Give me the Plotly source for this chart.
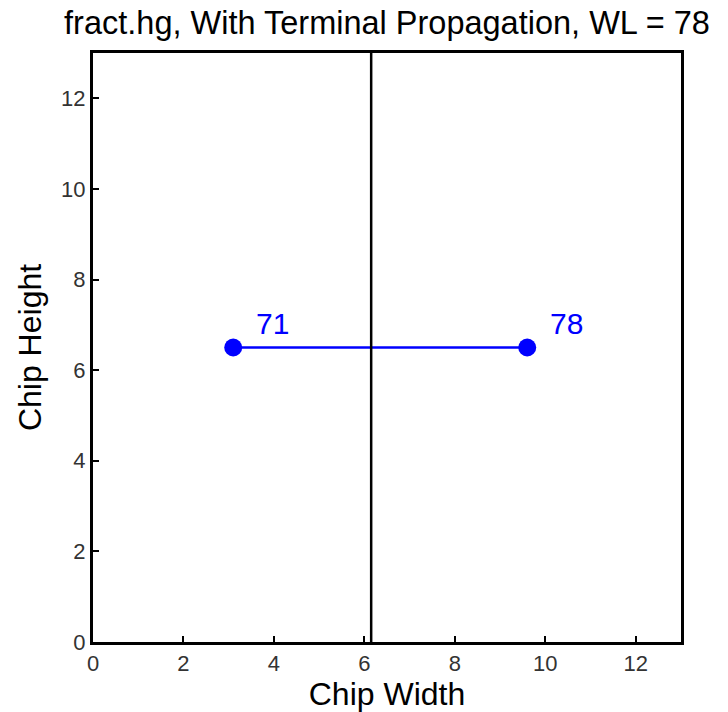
import plotly.graph_objects as go

# Net endpoints (cell positions) and their labels
net_x = [3.1, 9.6]
net_y = [6.5, 6.5]
net_labels = ["71", "78"]

# Vertical cut line position
cut_x = 6.15

x_ticks = [0, 2, 4, 6, 8, 10, 12]
y_ticks = [0, 2, 4, 6, 8, 10, 12]

FONT = "Liberation Sans, Arial"

fig = go.Figure()

fig.add_trace(go.Scatter(
    x=net_x, y=net_y, mode="lines+markers",
    line=dict(color="#0000ff", width=2.5),
    marker=dict(color="#0000ff", size=18),
    hoverinfo="skip", showlegend=False,
))

for xv, yv, lab in zip(net_x, net_y, net_labels):
    fig.add_annotation(x=xv, y=yv, text=lab, showarrow=False,
                       xshift=39, yshift=24,
                       font=dict(family=FONT, size=30, color="#0000ff"))

fig.add_shape(type="line", x0=cut_x, x1=cut_x, y0=0, y1=13,
              xref="x", yref="y", line=dict(color="black", width=2.5))

axis_common = dict(
    showgrid=False, zeroline=False,
    showline=True, linecolor="black", linewidth=3, mirror=True,
    ticks="inside", ticklen=6, tickwidth=1.5, tickcolor="black",
    tickfont=dict(family=FONT, size=22, color="#333"),
)

fig.update_layout(
    width=728, height=712,
    margin=dict(l=93, r=47, t=53, b=70),
    paper_bgcolor="white", plot_bgcolor="white",
    title=dict(text="fract.hg, With Terminal Propagation, WL = 78",
               x=0.5, xref="paper", xanchor="center",
               y=1 - 23 / 712, yref="container", yanchor="middle",
               font=dict(family=FONT, size=32.5, color="black")),
    xaxis=dict(range=[0, 13], tickvals=x_ticks,
               title=dict(text="Chip Width", standoff=1,
                          font=dict(family=FONT, size=32, color="black")),
               **axis_common),
    yaxis=dict(range=[0, 13], tickvals=y_ticks,
               title=dict(text="Chip Height", standoff=10,
                          font=dict(family=FONT, size=32, color="black")),
               **axis_common),
)

fig.write_html("out.html")
